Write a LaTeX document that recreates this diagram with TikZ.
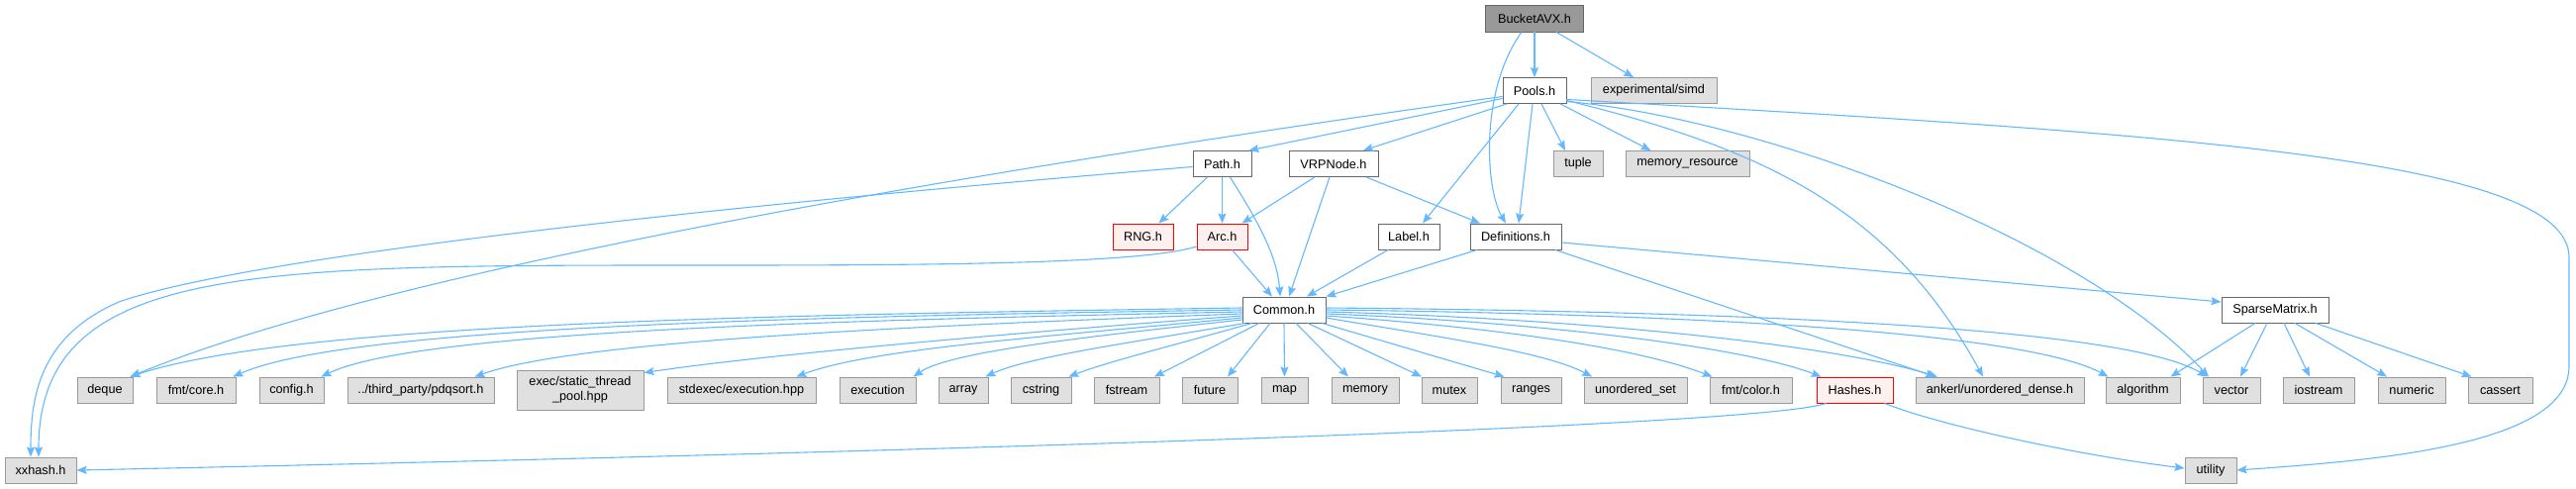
\documentclass[tikz,border=0pt]{standalone}
\usepackage{fontspec}
\setmainfont{Liberation Sans}
\usetikzlibrary{arrows.meta}
\definecolor{edgeblue}{HTML}{63B8FF}
\definecolor{wborder}{HTML}{666666}
\definecolor{gborder}{HTML}{999999}
\definecolor{gfill}{HTML}{E0E0E0}
\definecolor{rborder}{HTML}{FF0000}
\definecolor{rfill}{HTML}{FFF0F0}
\definecolor{rootfill}{HTML}{999999}
\tikzset{
  box/.style={rectangle, inner sep=0pt, minimum height=26pt, line width=0.9pt,
    font=\fontsize{12.7}{15}\selectfont, text=black},
  wbox/.style={box, draw=wborder, fill=white},
  gbox/.style={box, draw=gborder, fill=gfill},
  rbox/.style={box, draw=rborder, fill=rfill},
  rootbox/.style={box, draw=wborder, fill=rootfill, minimum height=27pt},
  edge/.style={draw=edgeblue, line width=1.1pt, -{Stealth[length=10pt,width=8pt,inset=1.5pt]}},
}
\begin{document}
\begin{tikzpicture}[x=1pt,y=-1pt]
\useasboundingbox (0,0) rectangle (2602,493);
% nodes
\node[rootbox, minimum width=99pt] (root) at (1550,18.5) {BucketAVX.h};
\node[wbox, minimum width=64pt] (pools) at (1550,91.5) {Pools.h};
\node[gbox, minimum width=127pt] (simd) at (1670.5,91.5) {experimental/simd};
\node[wbox, minimum width=59pt] (path) at (1234.5,165.5) {Path.h};
\node[wbox, minimum width=90pt] (vrp) at (1347,165.5) {VRPNode.h};
\node[gbox, minimum width=50pt] (tuple) at (1594,165.5) {tuple};
\node[gbox, minimum width=125pt] (memres) at (1704.5,165.5) {memory\_resource};
\node[rbox, minimum width=61pt] (rng) at (1154.5,239) {RNG.h};
\node[rbox, minimum width=51pt] (arc) at (1234.5,239) {Arc.h};
\node[wbox, minimum width=62pt] (label) at (1423,239) {Label.h};
\node[wbox, minimum width=92pt] (defs) at (1531,239) {Definitions.h};
\node[wbox, minimum width=84pt] (common) at (1297,313) {Common.h};
\node[wbox, minimum width=108pt] (sparse) at (2298,313) {SparseMatrix.h};
\node[gbox, minimum width=56pt] (deque) at (106,394) {deque};
\node[gbox, minimum width=80pt] (fmtcore) at (198,394) {fmt/core.h};
\node[gbox, minimum width=65pt] (config) at (294.5,394) {config.h};
\node[gbox, minimum width=148pt] (pdq) at (425,394) {../third\_party/pdqsort.h};
\node[gbox, minimum width=128pt, minimum height=40pt, align=center] (exec) at (586,394) {exec/static\_thread\\\_pool.hpp};
\node[gbox, minimum width=150pt] (stdexec) at (749,394) {stdexec/execution.hpp};
\node[gbox, minimum width=77pt] (execution) at (886.5,394) {execution};
\node[gbox, minimum width=50pt] (array) at (973,394) {array};
\node[gbox, minimum width=61pt] (cstring) at (1051.5,394) {cstring};
\node[gbox, minimum width=66pt] (fstream) at (1138,394) {fstream};
\node[gbox, minimum width=56pt] (future) at (1222,394) {future};
\node[gbox, minimum width=47pt] (map) at (1297.5,394) {map};
\node[gbox, minimum width=68pt] (memory) at (1379,394) {memory};
\node[gbox, minimum width=56pt] (mutex) at (1464,394) {mutex};
\node[gbox, minimum width=61pt] (ranges) at (1546.5,394) {ranges};
\node[gbox, minimum width=104pt] (uset) at (1652,394) {unordered\_set};
\node[gbox, minimum width=83pt] (fmtcolor) at (1768.5,394) {fmt/color.h};
\node[rbox, minimum width=77pt] (hashes) at (1873.5,394) {Hashes.h};
\node[gbox, minimum width=170pt] (ankerl) at (2020,394) {ankerl/unordered\_dense.h};
\node[gbox, minimum width=75pt] (algorithm) at (2164.5,394) {algorithm};
\node[gbox, minimum width=58pt] (vector) at (2254,394) {vector};
\node[gbox, minimum width=72pt] (iostream) at (2342,394) {iostream};
\node[gbox, minimum width=68pt] (numeric) at (2436,394) {numeric};
\node[gbox, minimum width=65pt] (cassert) at (2525.5,394) {cassert};
\node[gbox, minimum width=72pt] (xxhash) at (41,475) {xxhash.h};
\node[gbox, minimum width=52pt] (utility) at (2233,475) {utility};
% BucketAVX.h
\draw[edge] (root.south) -- (pools.north);
\draw[edge] ([xshift=22pt]root.south) -- ([xshift=-20.5pt]simd.north);
\draw[edge] ([xshift=-13pt]root.south) .. controls (1495,90) and (1500,190) .. ([xshift=-10pt]defs.north);
% Pools.h
\draw[edge] ([yshift=-8pt]pools.west) -- ([xshift=-3pt]path.north east);
\draw[edge] ([xshift=-28pt]pools.south) -- ([xshift=30pt]vrp.north);
\draw[edge] ([xshift=-16pt]pools.south) -- ([xshift=14pt]label.north);
\draw[edge] ([xshift=-2pt]pools.south) -- ([xshift=3pt]defs.north);
\draw[edge] ([xshift=7pt]pools.south) -- ([xshift=-13pt]tuple.north);
\draw[edge] ([xshift=26pt]pools.south) -- ([xshift=-37pt]memres.north);
\draw[edge] ([yshift=-6pt]pools.west) .. controls (1000,170) and (400,270) .. ([xshift=-3pt]deque.north east);
\draw[edge] ([yshift=-10pt]pools.east) .. controls (1780,150) and (1910,210) .. ([xshift=-17pt]ankerl.north);
\draw[edge] ([yshift=-11pt]pools.east) .. controls (1780,120) and (2100,240) .. ([xshift=-23pt]vector.north);
\draw[edge] ([yshift=-9pt]pools.east) .. controls (2200,135) and (2595,160) .. (2595,260) -- (2595,370) .. controls (2595,450) and (2400,465) .. (utility.east);
% Path.h
\draw[edge] ([xshift=-15pt]path.south) -- ([xshift=16pt]rng.north);
\draw[edge] (path.south) -- (arc.north);
\draw[edge] ([xshift=8pt]path.south) .. controls (1265,215) and (1290,255) .. ([xshift=-4pt]common.north);
\draw[edge] ([yshift=-3pt]path.west) .. controls (700,210) and (250,260) .. (120,305) .. controls (40,340) and (31,400) .. ([xshift=-10pt]xxhash.north);
% VRPNode.h
\draw[edge] ([xshift=-19pt]vrp.south) -- ([xshift=20pt]arc.north);
\draw[edge] ([xshift=-4pt]vrp.south) -- ([xshift=5pt]common.north);
\draw[edge] ([xshift=33pt]vrp.south) -- ([xshift=-36pt]defs.north);
% Arc.h
\draw[edge] ([xshift=10pt]arc.south) -- ([xshift=-12pt]common.north);
\draw[edge] ([yshift=-10pt]arc.west) .. controls (1150,268) and (900,268) .. (700,268) .. controls (250,268) and (39,268) .. ([xshift=-2pt]xxhash.north);
% Label.h
\draw[edge] ([xshift=-21pt]label.south) -- ([xshift=23pt]common.north);
% Definitions.h
\draw[edge] ([xshift=-39pt]defs.south) -- (common.north east);
\draw[edge] ([yshift=-6pt]defs.east) -- ([yshift=8pt]sparse.west);
\draw[edge] ([xshift=40pt]defs.south) -- ([xshift=-65pt]ankerl.north);
% SparseMatrix.h
\draw[edge] ([xshift=-20pt]sparse.south) -- ([xshift=28pt]algorithm.north);
\draw[edge] ([xshift=-8pt]sparse.south) -- ([xshift=9pt]vector.north);
\draw[edge] ([xshift=9pt]sparse.south) -- ([xshift=-9pt]iostream.north);
\draw[edge] ([xshift=20pt]sparse.south) -- ([xshift=-25pt]numeric.north);
\draw[edge] ([xshift=41pt]sparse.south) -- ([xshift=-29pt]cassert.north);
% Hashes.h
\draw[edge] ([xshift=-29pt]hashes.south) .. controls (1780,430) and (1000,455) .. (xxhash.east);
\draw[edge] ([xshift=30pt]hashes.south) .. controls (1960,430) and (2100,460) .. ([yshift=2pt]utility.west);
% Common.h left fan
\draw[edge] ([yshift=2pt]common.west) .. controls (800,318) and (300,325) .. ([xshift=-3pt]deque.north east);
\draw[edge] (common.west) .. controls (800,320) and (350,330) .. ([xshift=-3pt]fmtcore.north east);
\draw[edge] ([yshift=-2pt]common.west) .. controls (820,324) and (420,335) .. ([xshift=-3pt]config.north east);
\draw[edge] ([yshift=-4pt]common.west) .. controls (900,330) and (580,345) .. ([xshift=-20pt]pdq.north east);
\draw[edge] ([yshift=-6pt]common.west) .. controls (1000,338) and (760,360) .. ([yshift=-3pt]exec.north east);
\draw[edge] ([yshift=-8pt]common.west) .. controls (1060,340) and (880,352) .. ([xshift=-20pt]stdexec.north east);
\draw[edge] ([yshift=-10pt]common.west) .. controls (1100,340) and (960,355) .. ([xshift=-3pt]execution.north east);
\draw[edge] ([xshift=3pt]common.south west) .. controls (1150,345) and (1040,360) .. ([xshift=-3pt]array.north east);
\draw[edge] ([xshift=10pt]common.south west) .. controls (1200,345) and (1120,365) .. ([xshift=-3pt]cstring.north east);
\draw[edge] ([xshift=-25pt]common.south) -- ([xshift=28pt]fstream.north);
\draw[edge] ([xshift=-14pt]common.south) -- ([xshift=18pt]future.north);
\draw[edge] (common.south) -- (map.north);
\draw[edge] ([xshift=12pt]common.south) -- ([xshift=-17pt]memory.north);
\draw[edge] ([xshift=24pt]common.south) -- ([xshift=-28pt]mutex.north);
\draw[edge] ([xshift=-4pt]common.south east) -- ([xshift=-27pt]ranges.north);
% Common.h right fan
\draw[edge] ([yshift=-8pt]common.east) .. controls (1450,340) and (1560,355) .. ([xshift=-44pt]uset.north);
\draw[edge] ([yshift=-6pt]common.east) .. controls (1500,330) and (1650,350) .. ([xshift=3pt]fmtcolor.north west);
\draw[edge] ([yshift=-4pt]common.east) .. controls (1550,325) and (1760,350) .. ([xshift=5pt]hashes.north west);
\draw[edge] ([yshift=-2pt]common.east) .. controls (1600,322) and (1850,348) .. ([xshift=-63pt]ankerl.north);
\draw[edge] (common.east) .. controls (1750,318) and (2050,338) .. ([xshift=3pt]algorithm.north west);
\draw[edge] ([yshift=2pt]common.east) .. controls (1800,315) and (2150,333) .. ([xshift=5pt]vector.north west);
\end{tikzpicture}
\end{document}
